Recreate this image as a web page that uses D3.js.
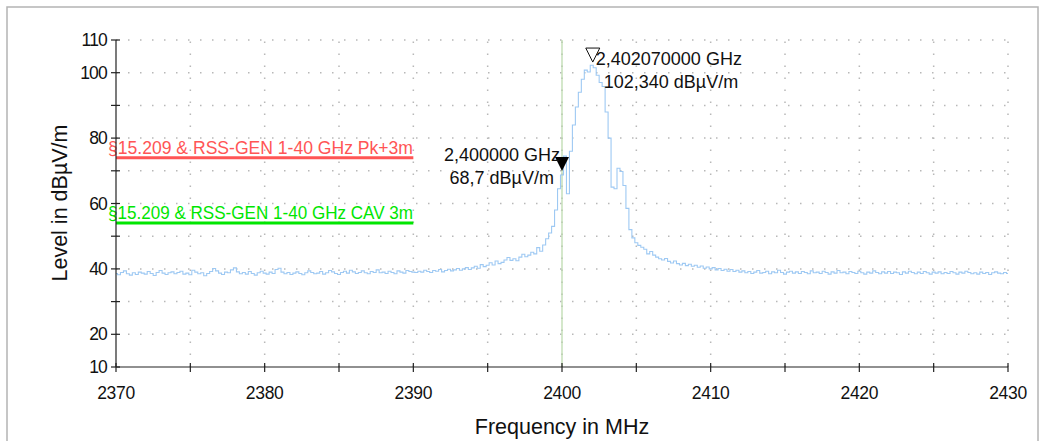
<!DOCTYPE html>
<html>
<head>
<meta charset="utf-8">
<script src="https://cdn.jsdelivr.net/npm/d3@7"></script>
<style>
  body { margin: 0; background: #fff; }
  svg { display: block; font-family: "Liberation Sans", Arial, sans-serif; }
</style>
</head>
<body>
<div id="canvas"></div>
<script>
// sweep: 2370..2430 MHz, 0.2 MHz per sample
var FREQ_START = 2370, FREQ_STEP = 0.2;

// 2370.0 - 2390.0
var levels_low = [38.6,38.2,38.9,39.4,38.5,38.1,38.8,38.3,39.0,38.7,
  38.4,39.2,38.6,38.0,38.9,39.5,38.7,38.3,38.8,39.1,
  38.5,38.9,39.3,38.4,38.7,38.2,39.6,39.0,38.5,38.8,
  37.9,38.6,39.2,40.1,39.4,38.7,38.3,39.0,38.8,39.7,
  40.3,39.1,38.5,38.9,38.4,39.2,38.6,38.1,38.8,39.3,
  38.7,38.4,39.0,38.6,39.8,40.2,39.0,38.5,38.9,38.3,
  38.7,39.1,38.6,38.2,38.8,39.4,38.9,38.5,38.7,39.2,
  38.4,38.8,39.5,39.1,38.6,38.3,38.9,39.3,38.7,39.6,
  39.1,38.6,38.9,39.4,38.8,38.5,39.2,38.9,39.7,38.8,
  39.0,38.6,39.3,38.9,38.5,39.4,39.0,38.7,39.5,39.2,
  39.0];
// 2390.2 - 2399.0
var levels_rise = [38.9,39.3,39.0,39.6,39.2, 38.9,39.5,39.3,39.8,39.1,
  39.5,39.9,39.4,39.7,40.1, 39.6,40.0,40.4,39.8,40.3,
  40.8,40.2,41.3,40.7,41.1, 41.9,41.2,42.4,41.6,42.0,
  42.7,43.5,42.6,43.1,42.5, 43.6,44.5,43.7,44.2,45.1,
  44.6,46.5,45.4,47.3,49.2];
// 2399.2 - 2406.0
var levels_peak = [51.0,53.0,58.0,64.5,68.7,
  74.5,63.0,76.0,84.0,89.5,
  94.0,98.0,100.8,100.2,102.3,
  101.5,99.2,97.0,95.8,88.0,
  80.0,65.0,64.5,70.8,69.8,
  65.5,58.5,52.0,49.5,48.0,
  47.2,46.6,46.0,44.6,45.3];
// 2406.2 - 2412.0
var levels_fall = [44.2,43.6,43.1,42.7,43.2, 42.3,41.8,42.4,41.6,41.2,
  41.7,41.0,41.4,40.8,41.1, 40.5,40.9,40.2,40.6,40.0,
  40.4,39.7,40.1,39.5,39.9, 39.3,39.8,39.2,39.6,39.0];
// 2412.2 - 2430.0
var levels_high = [39.4,38.8,39.2,38.6,39.0,39.5,38.7,38.9,39.3,38.5,
  39.1,38.8,39.6,38.9,38.4,39.0,39.3,38.7,39.1,38.6,
  39.2,38.9,38.5,39.4,38.8,39.0,38.6,39.3,38.9,38.4,
  39.1,38.7,39.5,38.8,39.0,38.5,39.2,38.9,38.6,39.3,
  38.8,38.4,39.0,38.7,39.4,38.9,38.5,39.1,38.7,39.2,
  38.6,39.0,38.8,38.3,39.1,38.7,39.3,38.9,38.5,39.0,
  38.6,39.2,38.8,38.4,39.0,38.7,39.1,38.5,38.9,38.6,
  39.2,38.8,38.4,39.0,38.7,39.3,38.9,38.5,38.8,38.4,
  39.0,38.6,38.9,38.3,38.8,39.1,38.7,38.5,38.9,38.6];

var x_ticks = [2370, 2375, 2380, 2385, 2390, 2395, 2400, 2405, 2410, 2415, 2420, 2425, 2430];
var x_labels = [2370, 2380, 2390, 2400, 2410, 2420, 2430];
var y_ticks = [10, 20, 30, 40, 50, 60, 70, 80, 90, 100, 110];
var y_labels = [10, 20, 40, 60, 80, 100, 110];
var y_grid = [20, 30, 40, 50, 60, 70, 80, 90, 100, 110];

var limit_names = ['§15.209 & RSS-GEN 1-40 GHz Pk+3m', '§15.209 & RSS-GEN 1-40 GHz CAV 3m'];
var limit_levels = [74, 54];
var limit_from = [2370, 2370];
var limit_to = [2390, 2390];
var limit_colors = ['#ff5555', '#00e600'];

var marker_freqs = [2402.07, 2400.0];
var marker_levels = [102.34, 68.7];
var marker_text1 = ['2,402070000 GHz', '2,400000 GHz'];
var marker_text2 = ['102,340 dBµV/m', '68,7 dBµV/m'];

var W = 1044, H = 441;
var svg = d3.select('#canvas').append('svg').attr('width', W).attr('height', H);

// outer frame
svg.append('rect').attr('x', 7).attr('y', 7).attr('width', 1031).attr('height', 460)
    .attr('fill', 'none').attr('stroke', '#b4b4b4').attr('stroke-width', 1.5);

var x = d3.scaleLinear().domain([2370, 2430]).range([116, 1008]);
var y = d3.scaleLinear().domain([10, 110]).range([367, 40]);

var trace = [].concat(levels_low, levels_rise, levels_peak, levels_fall, levels_high)
    .map(function(v, i) { return { f: FREQ_START + i * FREQ_STEP, v: v }; });

// dotted grid
var g = svg.append('g');
g.selectAll('.hg').data(y_grid).enter().append('line')
    .attr('x1', x(2370)).attr('x2', x(2430))
    .attr('y1', function(d) { return y(d); }).attr('y2', function(d) { return y(d); })
    .attr('stroke', '#b8b8b8').attr('stroke-width', 1.5)
    .attr('stroke-dasharray', '1.5,10.5');
g.selectAll('.vg').data(x_ticks.slice(1)).enter().append('line')
    .attr('x1', function(d) { return x(d); }).attr('x2', function(d) { return x(d); })
    .attr('y1', y(10)).attr('y2', y(110))
    .attr('stroke', '#b8b8b8').attr('stroke-width', 1.5)
    .attr('stroke-dasharray', '1.5,10.5');

// marker line at 2400 MHz
g.append('line')
    .attr('x1', x(2400)).attr('x2', x(2400)).attr('y1', y(10)).attr('y2', y(110))
    .attr('stroke', '#b8d8a8').attr('stroke-width', 1.2);

// limit lines
for (var k = 0; k < limit_names.length; ++k) {
    g.append('line')
        .attr('x1', x(limit_from[k])).attr('x2', x(limit_to[k]))
        .attr('y1', y(limit_levels[k])).attr('y2', y(limit_levels[k]))
        .attr('stroke', limit_colors[k]).attr('stroke-width', 3);
    g.append('text')
        .attr('x', x(limit_from[k]) - 8).attr('y', y(limit_levels[k]) - 4)
        .attr('fill', limit_colors[k])
        .style('font-size', '17.5px')
        .attr('textLength', 305).attr('lengthAdjust', 'spacingAndGlyphs')
        .text(limit_names[k]);
}

// measured trace
var line = d3.line()
    .x(function(d) { return x(d.f); })
    .y(function(d) { return y(d.v); })
    .curve(d3.curveStep);
g.append('path').datum(trace)
    .attr('d', line)
    .attr('fill', 'none')
    .attr('stroke', '#9ec9f3')
    .attr('stroke-width', 1.1);

// axes
var ax = svg.append('g').attr('stroke', '#222').attr('stroke-width', 1.2);
ax.append('line').attr('x1', x(2370)).attr('x2', x(2430)).attr('y1', y(10)).attr('y2', y(10));
ax.append('line').attr('x1', x(2370)).attr('x2', x(2370)).attr('y1', y(10)).attr('y2', y(110));
ax.selectAll('.xt').data(x_ticks).enter().append('line')
    .attr('x1', function(d) { return x(d); }).attr('x2', function(d) { return x(d); })
    .attr('y1', y(10) - 4).attr('y2', y(10) + 5);
ax.selectAll('.yt').data(y_ticks).enter().append('line')
    .attr('x1', x(2370) - 5).attr('x2', x(2370) + 4)
    .attr('y1', function(d) { return y(d); }).attr('y2', function(d) { return y(d); });

svg.selectAll('.xl').data(x_labels).enter().append('text')
    .attr('x', function(d) { return x(d); }).attr('y', 399)
    .attr('text-anchor', 'middle').attr('fill', '#111')
    .style('font-size', '17.5px').style('letter-spacing', '-0.3px')
    .text(function(d) { return d; });
svg.selectAll('.yl').data(y_labels).enter().append('text')
    .attr('x', 107).attr('y', function(d) { return y(d) + 6; })
    .attr('text-anchor', 'end').attr('fill', '#111')
    .style('font-size', '17.5px').style('letter-spacing', '-0.8px')
    .text(function(d) { return d; });

svg.append('text')
    .attr('x', 562).attr('y', 434).attr('text-anchor', 'middle')
    .attr('fill', '#111').style('font-size', '21.5px')
    .text('Frequency in MHz');
svg.append('text')
    .attr('transform', 'translate(67,203) rotate(-90)').attr('text-anchor', 'middle')
    .attr('fill', '#111').style('font-size', '21.5px')
    .text('Level in dBµV/m');

// markers
var tri = 'M-7,-14 L7,-14 L0,0 Z';
svg.append('path')
    .attr('d', tri)
    .attr('transform', 'translate(' + x(marker_freqs[0]) + ',' + (y(marker_levels[0]) - 3) + ')')
    .attr('fill', '#fff').attr('stroke', '#111').attr('stroke-width', 1);
svg.append('path')
    .attr('d', tri)
    .attr('transform', 'translate(' + x(marker_freqs[1]) + ',' + (y(marker_levels[1]) - 4) + ')')
    .attr('fill', '#000');

svg.append('text').attr('x', x(marker_freqs[0]) + 3).attr('y', 65)
    .attr('fill', '#111').style('font-size', '18px')
    .text(marker_text1[0]);
svg.append('text').attr('x', x(marker_freqs[0]) + 11).attr('y', 88)
    .attr('fill', '#111').style('font-size', '18px')
    .text(marker_text2[0]);
svg.append('text').attr('x', x(marker_freqs[1]) - 2).attr('y', 161)
    .attr('text-anchor', 'end')
    .attr('fill', '#111').style('font-size', '18px')
    .text(marker_text1[1]);
svg.append('text').attr('x', x(marker_freqs[1]) - 8).attr('y', 184)
    .attr('text-anchor', 'end')
    .attr('fill', '#111').style('font-size', '18px')
    .text(marker_text2[1]);
</script>
</body>
</html>
